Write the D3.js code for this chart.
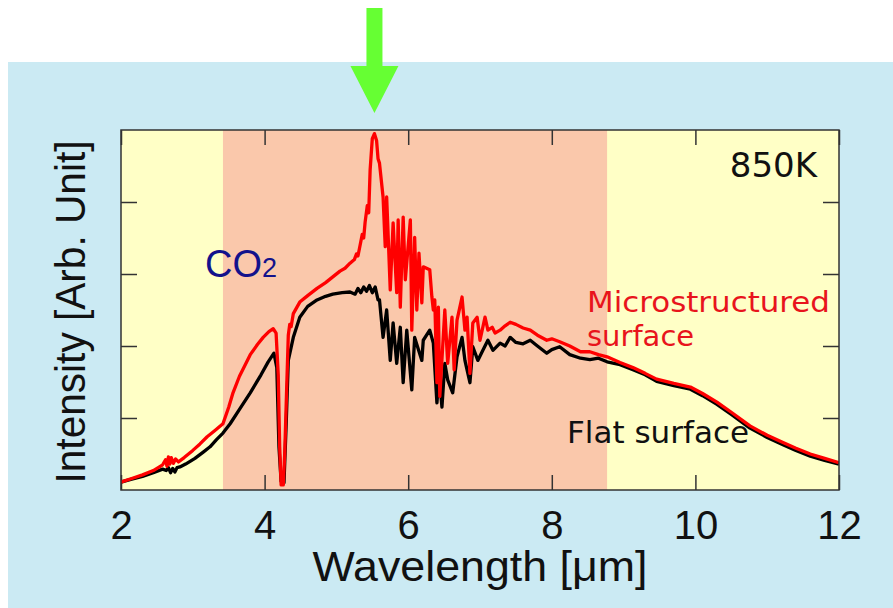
<!DOCTYPE html>
<html>
<head>
<meta charset="utf-8">
<script src="https://cdn.jsdelivr.net/npm/d3@7"></script>
<style>
  html, body { margin: 0; padding: 0; background: #ffffff; }
  svg { display: block; }
</style>
</head>
<body>
<script>
// spectra (wavelength in um, intensity in arb. units)
var flatWavelength = [2.00, 2.15, 2.30, 2.45, 2.58, 2.63, 2.66, 2.69, 2.72, 2.75, 2.78, 2.82, 2.90, 3.03, 3.15, 3.24, 3.33, 3.42, 3.52, 3.65,
  3.80, 3.95, 4.05, 4.13, 4.17, 4.20, 4.23, 4.27, 4.30, 4.33, 4.40, 4.49, 4.60, 4.73, 4.85, 4.95, 5.08, 5.19, 5.26, 5.30,
  5.34, 5.38, 5.42, 5.46, 5.50, 5.54, 5.58, 5.60, 5.65, 5.70, 5.75, 5.79, 5.84, 5.89, 5.93, 5.98, 6.05, 6.09, 6.13, 6.19,
  6.21, 6.30, 6.35, 6.40, 6.43, 6.47, 6.51, 6.55, 6.62, 6.68, 6.75, 6.79, 6.86, 6.90, 6.97, 7.04, 7.11, 7.18, 7.28, 7.35,
  7.42, 7.50, 7.60, 7.70, 7.80, 7.93, 8.00, 8.11, 8.25, 8.40, 8.53, 8.65, 8.77, 8.95, 9.13, 9.30, 9.46, 9.70, 9.93, 10.10,
  10.30, 10.50, 10.76, 11.00, 11.22, 11.40, 11.60, 11.80, 12.00];
var flatIntensity = [0.11, 0.15, 0.19, 0.24, 0.29, 0.27, 0.31, 0.24, 0.30, 0.25, 0.31, 0.32, 0.36, 0.44, 0.53, 0.60, 0.70, 0.79, 0.92, 1.12,
  1.35, 1.60, 1.78, 1.90, 1.70, 0.60, 0.12, 0.10, 0.90, 1.80, 2.12, 2.40, 2.55, 2.64, 2.69, 2.72, 2.74, 2.75, 2.72, 2.80,
  2.74, 2.82, 2.76, 2.84, 2.74, 2.82, 2.64, 2.64, 2.12, 2.50, 1.80, 2.32, 1.76, 2.26, 1.49, 2.22, 1.39, 2.12, 1.99, 1.80,
  2.08, 2.22, 2.04, 1.21, 1.62, 1.15, 1.76, 1.53, 1.35, 1.85, 2.12, 1.80, 1.49, 1.99, 1.80, 1.94, 2.08, 1.94, 2.04, 2.00,
  2.12, 2.05, 2.03, 2.08, 2.00, 1.90, 1.95, 1.99, 1.88, 1.83, 1.81, 1.83, 1.78, 1.74, 1.67, 1.60, 1.51, 1.45, 1.40, 1.31,
  1.19, 1.05, 0.86, 0.73, 0.63, 0.55, 0.47, 0.41, 0.36];

var microWavelength = [2.00, 2.15, 2.30, 2.45, 2.58, 2.62, 2.64, 2.66, 2.68, 2.70, 2.73, 2.76, 2.80, 2.88, 3.00, 3.10, 3.20, 3.30, 3.42, 3.50,
  3.56, 3.65, 3.72, 3.80, 3.90, 3.98, 4.06, 4.12, 4.16, 4.19, 4.21, 4.23, 4.26, 4.28, 4.31, 4.33, 4.35, 4.37, 4.40, 4.49,
  4.60, 4.73, 4.85, 4.95, 5.05, 5.12, 5.19, 5.25, 5.28, 5.30, 5.33, 5.36, 5.38, 5.40, 5.43, 5.45, 5.47, 5.50, 5.53, 5.56,
  5.58, 5.60, 5.65, 5.68, 5.70, 5.75, 5.79, 5.84, 5.86, 5.89, 5.93, 5.96, 6.03, 6.05, 6.09, 6.12, 6.15, 6.19, 6.21, 6.30,
  6.33, 6.35, 6.37, 6.40, 6.42, 6.44, 6.51, 6.55, 6.61, 6.64, 6.68, 6.75, 6.79, 6.82, 6.86, 6.90, 6.96, 7.00, 7.07, 7.11,
  7.17, 7.21, 7.28, 7.35, 7.42, 7.50, 7.60, 7.70, 7.80, 7.93, 8.00, 8.11, 8.25, 8.40, 8.53, 8.65, 8.77, 8.95, 9.13, 9.30,
  9.46, 9.70, 9.93, 10.10, 10.30, 10.50, 10.76, 11.00, 11.22, 11.40, 11.60, 11.80, 12.00];
var microIntensity = [0.11, 0.16, 0.21, 0.27, 0.35, 0.42, 0.33, 0.46, 0.36, 0.45, 0.37, 0.43, 0.39, 0.45, 0.55, 0.64, 0.74, 0.82, 0.92, 1.15,
  1.35, 1.58, 1.72, 1.88, 2.02, 2.12, 2.20, 2.24, 2.18, 1.60, 0.60, 0.07, 0.07, 0.50, 1.50, 2.15, 2.30, 2.27, 2.45, 2.61,
  2.70, 2.80, 2.88, 2.96, 3.04, 3.08, 3.15, 3.20, 3.28, 3.25, 3.40, 3.55, 3.50, 3.72, 3.95, 3.85, 4.45, 4.88, 4.95, 4.85,
  4.60, 4.54, 4.07, 3.38, 4.07, 2.78, 3.71, 2.74, 3.75, 2.54, 3.79, 2.92, 3.75, 2.22, 3.51, 2.50, 3.29, 2.60, 3.10, 3.06,
  2.68, 2.50, 2.64, 1.49, 2.54, 1.30, 2.50, 1.76, 2.40, 1.67, 2.36, 2.68, 2.22, 2.40, 1.62, 2.32, 2.40, 2.08, 2.40, 2.22,
  2.26, 2.18, 2.22, 2.28, 2.33, 2.30, 2.25, 2.22, 2.15, 2.08, 2.10, 2.06, 2.00, 1.92, 1.92, 1.88, 1.85, 1.77, 1.70, 1.62,
  1.54, 1.48, 1.43, 1.34, 1.22, 1.08, 0.89, 0.76, 0.66, 0.58, 0.50, 0.44, 0.38];

var xTicks = [2, 4, 6, 8, 10, 12];
var yTicks = [1, 2, 3, 4];
var bandRange = [3.42, 8.77];   // shaded window
var peakWavelength = 5.53;      // green arrow

var width = 893, height = 608;
var margin = { top: 130, right: 54, bottom: 118, left: 121 };

var svg = d3.select("body")
  .append("svg")
  .attr("width", width)
  .attr("height", height);

// light blue panel
svg.append("rect")
  .attr("x", 8).attr("y", 62)
  .attr("width", width - 8).attr("height", height - 62)
  .attr("fill", "#cbeaf3");

var x = d3.scaleLinear().domain([2, 12]).range([margin.left, width - margin.right]);
var y = d3.scaleLinear().domain([0, 5]).range([height - margin.bottom, margin.top]);

// plot backgrounds
svg.append("rect")
  .attr("x", x(2)).attr("y", y(5))
  .attr("width", x(12) - x(2)).attr("height", y(0) - y(5))
  .attr("fill", "#ffffc6");
svg.append("rect")
  .attr("x", x(bandRange[0])).attr("y", y(5))
  .attr("width", x(bandRange[1]) - x(bandRange[0])).attr("height", y(0) - y(5))
  .attr("fill", "#fac8ab");

// ticks pointing inwards
var tickColor = "#333";
function styleAxis(g) {
  g.select(".domain").remove();
  g.selectAll(".tick line").attr("stroke", tickColor).attr("stroke-width", 1.5);
}
svg.append("g")
  .attr("transform", "translate(0," + y(0) + ")")
  .call(d3.axisBottom(x).tickValues(xTicks).tickSizeInner(-15).tickSizeOuter(0).tickPadding(21).tickFormat(d3.format("d")))
  .call(styleAxis)
  .call(function (g) {
    g.selectAll("text")
      .attr("fill", "#111")
      .style("font-family", "'Liberation Sans', Arial, sans-serif")
      .style("font-size", "40px");
  });
svg.append("g")
  .attr("transform", "translate(0," + y(5) + ")")
  .call(d3.axisTop(x).tickValues(xTicks).tickSizeInner(-15).tickSizeOuter(0).tickFormat(""))
  .call(styleAxis);
svg.append("g")
  .attr("transform", "translate(" + x(2) + ",0)")
  .call(d3.axisLeft(y).tickValues(yTicks).tickSizeInner(-16).tickSizeOuter(0).tickFormat(""))
  .call(styleAxis);
svg.append("g")
  .attr("transform", "translate(" + x(12) + ",0)")
  .call(d3.axisRight(y).tickValues(yTicks).tickSizeInner(-16).tickSizeOuter(0).tickFormat(""))
  .call(styleAxis);

// spectra
var line = d3.line()
  .x(function (d) { return x(d[0]); })
  .y(function (d) { return y(d[1]); });

var flat = d3.zip(flatWavelength, flatIntensity);
var micro = d3.zip(microWavelength, microIntensity);

svg.append("clipPath").attr("id", "plotclip")
  .append("rect")
  .attr("x", x(2)).attr("y", y(5))
  .attr("width", x(12) - x(2)).attr("height", y(0) - y(5));

svg.append("path")
  .datum(flat)
  .attr("clip-path", "url(#plotclip)")
  .attr("d", line)
  .attr("fill", "none")
  .attr("stroke", "#000")
  .attr("stroke-width", 3.3)
  .attr("stroke-linejoin", "round");

svg.append("path")
  .datum(micro)
  .attr("clip-path", "url(#plotclip)")
  .attr("d", line)
  .attr("fill", "none")
  .attr("stroke", "#ff0000")
  .attr("stroke-width", 3.3)
  .attr("stroke-linejoin", "round");

// frame
svg.append("rect")
  .attr("x", x(2)).attr("y", y(5))
  .attr("width", x(12) - x(2)).attr("height", y(0) - y(5))
  .attr("fill", "none")
  .attr("stroke", tickColor)
  .attr("stroke-width", 1.5);

// labels
var sans = "'Liberation Sans', Arial, sans-serif";
var wide = "'DejaVu Sans', Verdana, sans-serif";

svg.append("text")
  .attr("x", 480).attr("y", 581)
  .attr("text-anchor", "middle")
  .attr("textLength", 335).attr("lengthAdjust", "spacingAndGlyphs")
  .style("font-family", sans).style("font-size", "42px")
  .attr("fill", "#111")
  .text("Wavelength [\u03BCm]");

svg.append("text")
  .attr("transform", "translate(85," + ((y(0) + y(5)) / 2 + 2) + ") rotate(-90)")
  .attr("text-anchor", "middle")
  .attr("textLength", 343).attr("lengthAdjust", "spacingAndGlyphs")
  .style("font-family", sans).style("font-size", "42px")
  .attr("fill", "#111")
  .text("Intensity [Arb. Unit]");

svg.append("text")
  .attr("x", 817).attr("y", 177)
  .attr("text-anchor", "end")
  .style("font-family", wide).style("font-size", "34px")
  .attr("fill", "#111")
  .text("850K");

var microLabel = svg.append("text")
  .style("font-family", wide).style("font-size", "29px")
  .attr("fill", "#e8141c");
microLabel.append("tspan").attr("x", 587).attr("y", 312)
  .attr("textLength", 243).attr("lengthAdjust", "spacingAndGlyphs")
  .text("Microstructured");
microLabel.append("tspan").attr("x", 587).attr("y", 346).text("surface");

svg.append("text")
  .attr("x", 567).attr("y", 443)
  .style("font-family", wide).style("font-size", "31px")
  .attr("fill", "#111")
  .text("Flat surface");

var co2 = svg.append("text")
  .attr("x", 205).attr("y", 277)
  .style("font-family", sans).style("font-size", "38px")
  .attr("fill", "#12128c");
co2.append("tspan").text("CO");
co2.append("tspan").style("font-size", "27px").text("2");

// green arrow over the peak
var ax = x(peakWavelength);
svg.append("path")
  .attr("d", d3.line()([
    [ax - 8, 8], [ax + 8, 8], [ax + 8, 66], [ax + 24, 66],
    [ax, 113], [ax - 24, 66], [ax - 8, 66]
  ]) + "Z")
  .attr("fill", "#66ff33");
</script>
</body>
</html>
